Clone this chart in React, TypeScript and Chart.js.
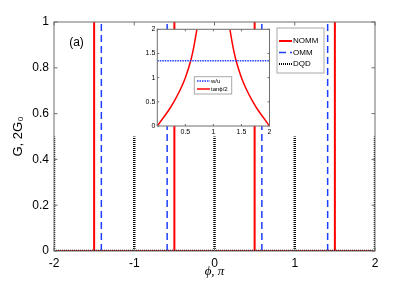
import React, { useEffect, useRef } from "react";
import { Chart, registerables } from "chart.js";

Chart.register(...registerables);

// ---- main chart data ----
const xTicks = [-2, -1, 0, 1, 2];
const yTicks = [0, 0.2, 0.4, 0.6, 0.8, 1];
const nommPeaks = [-1.5, -0.5, 0.5, 1.5];
const nommHeight = 1;
const ommPeaks = [-1.41, -0.59, 0.59, 1.41];
const ommHeight = 1;
const dqdPeaks = [-2, -1, 0, 1, 2];
const dqdHeight = 0.5;
const mainLabels = ["NOMM", "OMM", "DQD"];

// ---- inset data ----
const insetXTicks = [0, 0.5, 1, 1.5, 2];
const insetYTicks = [0, 0.5, 1, 1.5, 2];
const wuLevel = 1.35;
const tanPhiLeft = [0, 0.1, 0.2, 0.3, 0.4, 0.5, 0.6, 0.65, 0.7, 0.705];
const tanValLeft = [0, 0.16, 0.32, 0.51, 0.73, 1.0, 1.37, 1.63, 1.96, 2.0];
const tanPhiRight = [1.295, 1.3, 1.35, 1.4, 1.5, 1.6, 1.7, 1.8, 1.9, 2.0];
const tanValRight = [2.0, 1.96, 1.63, 1.37, 1.0, 0.73, 0.51, 0.32, 0.16, 0];
const insetLabels = ["w/u", "tan\u03D5/2"];

const FONT = '"Liberation Sans", Arial, Helvetica, sans-serif';
const RED = "#ff0000";
const BLUE = "#1f3fff";
const AXIS = "#6e6e6e";

function spikeData(peaks: number[], h: number) {
  const pts: any[] = [];
  pts.push({ x: xTicks[0], y: 0 }, { x: xTicks[xTicks.length - 1], y: 0 }, { x: 0, y: null });
  peaks.forEach((p) => {
    pts.push({ x: p, y: 0 }, { x: p, y: h }, { x: p, y: null });
  });
  return pts;
}

function framePlugin(id: string, xt: number[], yt: number[], tickLen: number, fillWhite: boolean) {
  return {
    id,
    beforeDatasetsDraw(chart: any) {
      if (!fillWhite) return;
      const { ctx, chartArea: a } = chart;
      ctx.save();
      ctx.fillStyle = "#ffffff";
      ctx.fillRect(a.left, a.top, a.right - a.left, a.bottom - a.top);
      ctx.restore();
    },
    afterDatasetsDraw(chart: any) {
      const { ctx, chartArea: a, scales } = chart;
      ctx.save();
      ctx.strokeStyle = AXIS;
      ctx.lineWidth = 1;
      ctx.strokeRect(a.left, a.top, a.right - a.left, a.bottom - a.top);
      ctx.beginPath();
      xt.forEach((v) => {
        const px = scales.x.getPixelForValue(v);
        ctx.moveTo(px, a.bottom);
        ctx.lineTo(px, a.bottom - tickLen);
        ctx.moveTo(px, a.top);
        ctx.lineTo(px, a.top + tickLen);
      });
      yt.forEach((v) => {
        const py = scales.y.getPixelForValue(v);
        ctx.moveTo(a.left, py);
        ctx.lineTo(a.left + tickLen, py);
        ctx.moveTo(a.right, py);
        ctx.lineTo(a.right - tickLen, py);
      });
      ctx.stroke();
      ctx.restore();
    },
  };
}

function legendPlugin(id: string, box: number[], rowsY: number[], sampleX: number[], fontSize: number, labels: string[], extra?: (ctx: any) => void) {
  return {
    id,
    afterDraw(chart: any) {
      const { ctx } = chart;
      const ds = chart.data.datasets;
      ctx.save();
      ctx.fillStyle = "#ffffff";
      ctx.fillRect(box[0], box[1], box[2] - box[0], box[3] - box[1]);
      ctx.strokeStyle = "#a8a8a8";
      ctx.lineWidth = 1;
      ctx.strokeRect(box[0], box[1], box[2] - box[0], box[3] - box[1]);
      labels.forEach((lab, i) => {
        const d = ds[i];
        const y = rowsY[i];
        ctx.save();
        ctx.strokeStyle = d.borderColor;
        ctx.lineWidth = Math.min(d.borderWidth, 2);
        ctx.setLineDash(d.borderDash || []);
        ctx.beginPath();
        ctx.moveTo(sampleX[0], y);
        ctx.lineTo(sampleX[1], y);
        ctx.stroke();
        ctx.restore();
        ctx.fillStyle = "#000";
        ctx.font = `${fontSize}px ${FONT}`;
        ctx.textBaseline = "middle";
        ctx.textAlign = "left";
        ctx.fillText(lab, sampleX[1] + 1, y);
      });
      if (extra) extra(ctx);
      ctx.restore();
    },
  };
}

export default function App() {
  const mainRef = useRef<HTMLCanvasElement>(null);
  const insetRef = useRef<HTMLCanvasElement>(null);

  useEffect(() => {
    const main = new Chart(mainRef.current!, {
      type: "line",
      data: {
        datasets: [
          { label: mainLabels[0], data: spikeData(nommPeaks, nommHeight), borderColor: RED, borderWidth: 2, order: 1 } as any,
          { label: mainLabels[1], data: spikeData(ommPeaks, ommHeight), borderColor: BLUE, borderWidth: 1.5, borderDash: [7, 4], order: 2 } as any,
          { label: mainLabels[2], data: spikeData(dqdPeaks, dqdHeight), borderColor: "#000000", borderWidth: 2.5, borderDash: [1, 1], order: 0 } as any,
        ],
      },
      options: {
        animation: false,
        responsive: true,
        maintainAspectRatio: false,
        spanGaps: false,
        elements: { point: { radius: 0 }, line: { tension: 0 } },
        layout: { padding: { left: 0, top: 22, right: 40, bottom: 0 } },
        plugins: { legend: { display: false }, tooltip: { enabled: false } },
        scales: {
          x: {
            type: "linear",
            min: xTicks[0],
            max: xTicks[xTicks.length - 1],
            grid: { display: false, drawTicks: false },
            border: { display: false },
            afterBuildTicks: (s: any) => { s.ticks = xTicks.map((v) => ({ value: v })); },
            afterFit: (s: any) => { s.height = 32; },
            ticks: { font: { family: FONT, size: 12 }, color: "#000", padding: 5, maxRotation: 0, callback: (v: any) => String(v) },
            title: { display: true, text: "\u03D5, \u03C0", color: "#000", font: { family: '"Liberation Serif", "DejaVu Serif", serif', size: 13, style: "italic" }, padding: { top: 0, bottom: 4 } },
          },
          y: {
            type: "linear",
            min: yTicks[0],
            max: yTicks[yTicks.length - 1],
            grid: { display: false, drawTicks: false },
            border: { display: false },
            afterBuildTicks: (s: any) => { s.ticks = yTicks.map((v) => ({ value: v })); },
            afterFit: (s: any) => { s.width = 54; },
            ticks: { font: { family: FONT, size: 12 }, color: "#000", padding: 5, callback: (v: any) => String(v) },
            title: { display: true, text: "G, 2G\u2080", color: "#000", font: { family: FONT, size: 13 }, padding: { top: 11, bottom: 0 } },
          },
        },
      } as any,
      plugins: [
        framePlugin("mainFrame", xTicks, yTicks, 3.5, false),
        legendPlugin("mainLegend", [277, 28, 324, 73], [41, 52.5, 64], [279, 292], 8, mainLabels, (ctx: any) => {
          ctx.fillStyle = "#000";
          ctx.font = `12px ${FONT}`;
          ctx.textAlign = "center";
          ctx.textBaseline = "middle";
          ctx.fillText("(a)", 76.5, 43);
        }),
      ],
    });

    const tanData: any[] = [];
    tanPhiLeft.forEach((p, i) => tanData.push({ x: p, y: tanValLeft[i] }));
    tanData.push({ x: 1, y: null });
    tanPhiRight.forEach((p, i) => tanData.push({ x: p, y: tanValRight[i] }));

    const inset = new Chart(insetRef.current!, {
      type: "line",
      data: {
        datasets: [
          { label: insetLabels[0], data: [{ x: insetXTicks[0], y: wuLevel }, { x: insetXTicks[insetXTicks.length - 1], y: wuLevel }], borderColor: BLUE, borderWidth: 1.5, borderDash: [1.5, 1] } as any,
          { label: insetLabels[1], data: tanData, borderColor: RED, borderWidth: 1.5, cubicInterpolationMode: "monotone" } as any,
        ],
      },
      options: {
        animation: false,
        responsive: true,
        maintainAspectRatio: false,
        spanGaps: false,
        elements: { point: { radius: 0 } },
        layout: { padding: { left: 0, top: 7.3, right: 5.5, bottom: 0 } },
        plugins: { legend: { display: false }, tooltip: { enabled: false } },
        scales: {
          x: {
            type: "linear",
            min: 0,
            max: 2,
            grid: { display: false, drawTicks: false },
            border: { display: false },
            afterBuildTicks: (s: any) => { s.ticks = insetXTicks.map((v) => ({ value: v })); },
            afterFit: (s: any) => { s.height = 14; },
            ticks: { font: { family: FONT, size: 7 }, color: "#000", padding: 2, maxRotation: 0, callback: (v: any) => (v === 0 ? "" : String(v)) },
          },
          y: {
            type: "linear",
            min: 0,
            max: 2,
            grid: { display: false, drawTicks: false },
            border: { display: false },
            afterBuildTicks: (s: any) => { s.ticks = insetYTicks.map((v) => ({ value: v })); },
            afterFit: (s: any) => { s.width = 22.3; },
            ticks: { font: { family: FONT, size: 7 }, color: "#000", padding: 2, callback: (v: any) => String(v) },
          },
        },
      } as any,
      plugins: [
        framePlugin("insetFrame", insetXTicks, insetYTicks, 2, true),
        legendPlugin("insetLegend", [59.3, 54.7, 96.7, 72], [59, 67], [62, 75], 6, insetLabels),
      ],
    });

    return () => {
      main.destroy();
      inset.destroy();
    };
  }, []);

  return (
    <div style={{ position: "fixed", left: 0, top: 0, width: 415, height: 283, background: "#ffffff" }}>
      <div style={{ position: "absolute", left: 0, top: 0, width: 415, height: 283 }}>
        <canvas ref={mainRef} />
      </div>
      <div style={{ position: "absolute", left: 135, top: 22, width: 140, height: 118 }}>
        <canvas ref={insetRef} />
      </div>
    </div>
  );
}
